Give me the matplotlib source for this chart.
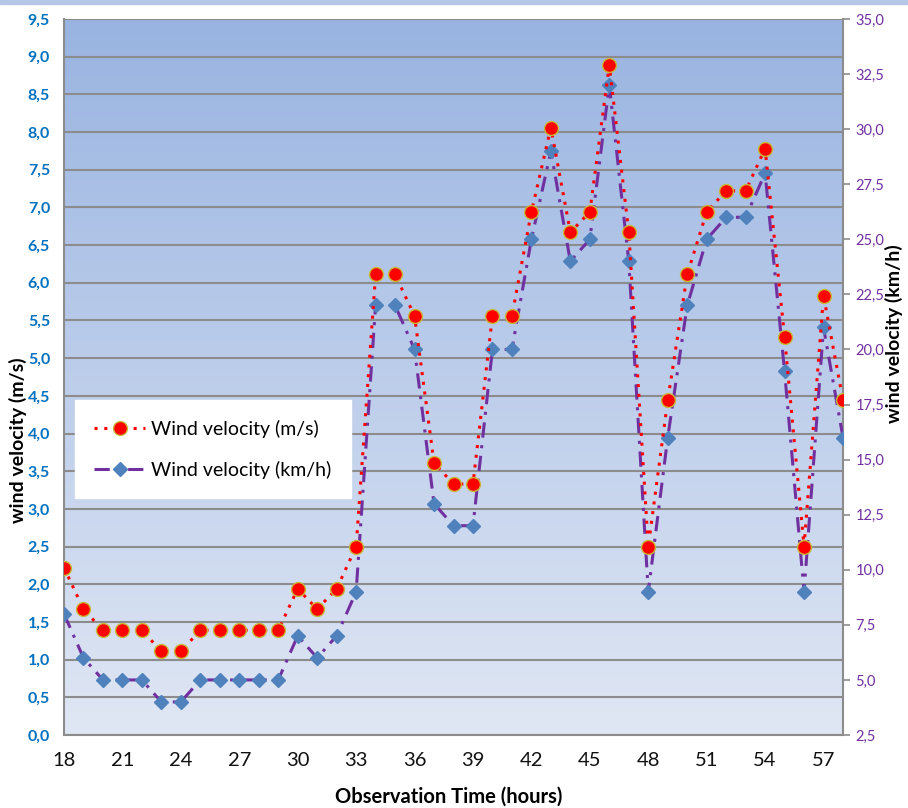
import matplotlib
matplotlib.use("Agg")
import matplotlib.pyplot as plt
import numpy as np
from matplotlib.colors import LinearSegmentedColormap
from matplotlib.ticker import FuncFormatter, MultipleLocator

hours = list(range(18, 59))
speed_ms = [2.22, 1.67, 1.39, 1.39, 1.39, 1.11, 1.11, 1.39, 1.39, 1.39, 1.39, 1.39,
            1.94, 1.67, 1.94, 2.50, 6.11, 6.11, 5.56, 3.61, 3.33, 3.33, 5.56, 5.56,
            6.94, 8.06, 6.67, 6.94, 8.89, 6.67, 2.50, 4.44, 6.11, 6.94, 7.22, 7.22,
            7.78, 5.28, 2.50, 5.83, 4.44]
speed_kmh = [8, 6, 5, 5, 5, 4, 4, 5, 5, 5, 5, 5, 7, 6, 7, 9, 22, 22, 20, 13, 12, 12,
             20, 20, 25, 29, 24, 25, 32, 24, 9, 16, 22, 25, 26, 26, 28, 19, 9, 21, 16]
xticks = list(range(18, 58, 3))

plt.rcParams['font.family'] = ['Lato', 'DejaVu Sans']

W, H = 908, 808
fig = plt.figure(figsize=(W / 100, H / 100), dpi=100)
fig.patch.set_facecolor('white')
# top light-blue strip
fig.add_artist(plt.Rectangle((0, 1 - 4 / H), 1, 4 / H, transform=fig.transFigure,
                             color='#B4C7E7', zorder=0))

L, R, T, B = 64, 843, 19, 735
ax = fig.add_axes([L / W, 1 - B / H, (R - L) / W, (B - T) / H])
ax.set_xlim(18, 58)
ax.set_ylim(0, 9.5)

cmap = LinearSegmentedColormap.from_list('bg', ['#E0E7F4', '#99B4E1'])
grad = np.linspace(0, 1, 256).reshape(-1, 1)
ax.imshow(grad, extent=[0, 1, 0, 1], transform=ax.transAxes, cmap=cmap,
          origin='lower', aspect='auto', zorder=0)

ax.yaxis.set_major_locator(MultipleLocator(0.5))
ax.grid(axis='y', color='#8C8C8C', linewidth=1.5, zorder=1)
ax.set_axisbelow(True)
ax.set_xticks(xticks)
ax.tick_params(axis='x', length=0, pad=12, labelsize=14.5, labelcolor='#111111')
ax.tick_params(axis='y', length=0, pad=10, labelsize=11.5, labelcolor='#0070C0')
for lab in ax.get_yticklabels():
    lab.set_fontweight('bold')
ax.yaxis.set_major_formatter(FuncFormatter(lambda v, p: f"{v:.1f}".replace('.', ',')))
for s in ['left', 'bottom', 'right']:
    ax.spines[s].set_color('#8C8C8C')
    ax.spines[s].set_linewidth(1.5)
ax.spines['top'].set_visible(False)

ax2 = ax.twinx()
ax2.set_ylim(2.5, 35)
ax2.yaxis.set_major_locator(MultipleLocator(2.5))
ax2.yaxis.set_major_formatter(FuncFormatter(lambda v, p: f"{v:.1f}".replace('.', ',')))
ax2.tick_params(axis='y', length=5, width=1.2, color='#8C8C8C', pad=4, labelsize=10.5,
                labelcolor='#7030A0')
for s in ax2.spines.values():
    s.set_visible(False)

l2, = ax2.plot(hours, speed_kmh, color='#7030A0', linestyle=(0, (5, 2.5, 1, 2.5)),
               linewidth=2.2, marker='D', markersize=7.5, markerfacecolor='#4F81BD',
               markeredgecolor='#4F81BD', zorder=3, label='Wind velocity (km/h)')
l1, = ax2.plot([], [])
ax3 = ax.twinx()
ax3.set_ylim(0, 9.5)
ax3.set_yticks([])
for s in ax3.spines.values():
    s.set_visible(False)
l1, = ax3.plot(hours, speed_ms, color='#FF0000', linestyle=(0, (1, 2.2)), linewidth=2.2,
               marker='o', markersize=10, markerfacecolor='#FF0000',
               markeredgecolor='#C9B83A', markeredgewidth=1.0, zorder=4,
               label='Wind velocity (m/s)')

leg = ax3.legend(handles=[l1, l2], loc='upper left',
                 bbox_to_anchor=((75 - L) / (R - L), (B - 400) / (B - T)),
                 frameon=True, fancybox=False, fontsize=14, labelspacing=1.2,
                 borderpad=1.0, handlelength=2.6, handletextpad=0.3,
                 borderaxespad=0)
leg.get_frame().set_facecolor('white')
leg.get_frame().set_edgecolor('white')
leg.get_frame().set_alpha(1)

fig.text(18 / W, 1 - 440 / H, 'wind velocity (m/s)', rotation=90, ha='center',
         va='center', fontsize=14, fontweight='bold', color='black')
fig.text(894 / W, 1 - 334 / H, 'wind velocity (km/h)', rotation=90, ha='center',
         va='center', fontsize=14, fontweight='bold', color='black')
fig.text((L + R) / 2 / W - 0.005, 1 - 797 / H, 'Observation Time (hours)', ha='center',
         va='center', fontsize=14.5, fontweight='bold', color='black')

fig.savefig('out.png', dpi=100)
